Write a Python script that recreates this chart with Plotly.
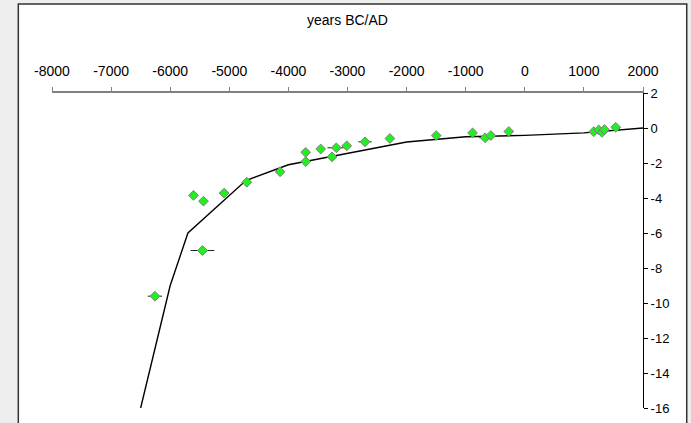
import plotly.graph_objects as go

# Sea-level curve (model line)
curve_years = [-6500, -6000, -5700, -4720, -4000, -2000, -1000, 0, 1000, 2000]
curve_level = [-16.0, -9.0, -6.0, -3.0, -2.1, -0.8, -0.5, -0.42, -0.28, 0.0]

# Observations
obs_years = [-6259, -5606, -5437, -5454, -5088, -4704, -4141, -3707, -3707, -3453,
             -3262, -3189, -3013, -2704, -2282, -1499, -884, -671, -574, -270,
             1167, 1251, 1307, 1348, 1539]
obs_level = [-9.61, -3.85, -4.18, -7.00, -3.72, -3.10, -2.50, -1.39, -1.92, -1.20,
             -1.65, -1.13, -1.02, -0.79, -0.60, -0.43, -0.28, -0.56, -0.43, -0.20,
             -0.21, -0.11, -0.25, -0.09, 0.04]
obs_year_err = [120, 0, 0, 200, 76, 0, 0, 0, 0, 0,
                70, 150, 0, 113, 68, 0, 0, 100, 0, 75,
                60, 0, 0, 0, 75]

x_ticks = list(range(-8000, 2001, 1000))
y_ticks = list(range(-16, 3, 2))

fig = go.Figure()

fig.add_trace(go.Scatter(
    x=curve_years, y=curve_level, mode="lines",
    line=dict(color="black", width=1.4), hoverinfo="skip", showlegend=False))

fig.add_trace(go.Scatter(
    x=obs_years, y=obs_level, mode="markers",
    marker=dict(symbol="diamond", size=7.5, color="#22ee22",
                line=dict(color="#808080", width=1)),
    error_x=dict(type="data", array=obs_year_err, visible=True,
                 color="#222222", thickness=1, width=0),
    showlegend=False))

font_family = "Liberation Sans, Arial, sans-serif"

fig.update_layout(
    width=691, height=423,
    margin=dict(l=52, r=48, t=93, b=15, autoexpand=False),
    paper_bgcolor="#eeeeee",
    plot_bgcolor="rgba(0,0,0,0)",
    font=dict(family=font_family, size=13, color="black"),
    xaxis=dict(
        range=[-8000, 2000], side="top", tickvals=x_ticks,
        ticktext=[str(v) for v in x_ticks],
        tickfont=dict(size=14),
        ticks="outside", ticklen=4, tickcolor="#808080", tickwidth=1,
        showline=True, linecolor="#808080", linewidth=2,
        showgrid=False, zeroline=False, automargin=False,
        ticklabelstandoff=5,
        title=dict(text="years BC/AD", standoff=35, font=dict(size=14)),
    ),
    yaxis=dict(
        range=[-16, 2], side="right", tickvals=y_ticks,
        ticktext=[str(v) for v in y_ticks],
        ticks="outside", ticklen=4, tickcolor="black", tickwidth=1,
        showline=True, linecolor="black", linewidth=1,
        showgrid=False, zeroline=False, automargin=False,
    ),
    shapes=[dict(type="rect", xref="paper", yref="paper",
                 x0=-0.057, x1=1.074, y0=-0.2, y1=1.2825,
                 fillcolor="white", line=dict(color="#333333", width=1.5),
                 layer="below")],
)

fig.write_html("out.html", config={"displayModeBar": False},
               post_script="document.body.style.margin='0px';document.body.style.overflow='hidden';")
